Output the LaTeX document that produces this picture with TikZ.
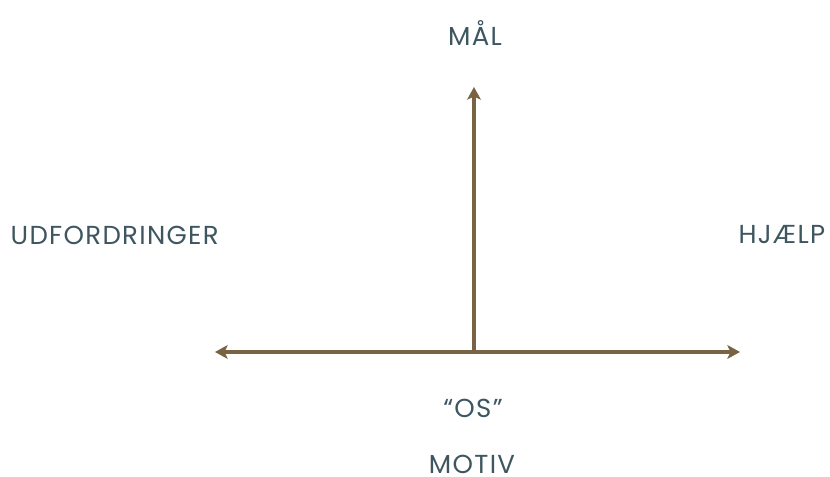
\documentclass[tikz,border=0pt]{standalone}
\usepackage{fontspec}
\setmainfont{Poppins}[LetterSpace=5]
\usetikzlibrary{arrows.meta}
\definecolor{slate}{HTML}{3E5660}
\definecolor{bronze}{HTML}{7A6343}

\begin{document}
\begin{tikzpicture}[
    lbl/.style={text=slate, font=\fontsize{7.4}{8}\selectfont, inner sep=0pt},
    axis/.style={draw=bronze, line width=0.9pt, -{Stealth[length=3.6pt, width=3.9pt, inset=0.9pt]}}
  ]
  \useasboundingbox (0,0) rectangle (8.30,4.77);

  \coordinate (o) at (4.74, 1.25);
  \coordinate (t) at (4.74, 3.90);
  \coordinate (l) at (2.15, 1.25);
  \coordinate (r) at (7.40, 1.25);

  \draw[axis] (o) -- (t);
  \draw[axis] (o) -- (l);
  \draw[axis] (o) -- (r);

  \node[lbl] (maal) at (4.75, 4.44) {MÅL};
  \node[lbl, anchor=west] (udf) at (0.10, 2.42) {UDFORDRINGER};
  \node[lbl, anchor=east] (hjaelp) at (8.26, 2.42) {HJÆLP};
  \node[lbl] (os) at (4.73, 0.69) {“OS”};
  \node[lbl] (motiv) at (4.72, 0.13) {MOTIV};
\end{tikzpicture}
\end{document}
